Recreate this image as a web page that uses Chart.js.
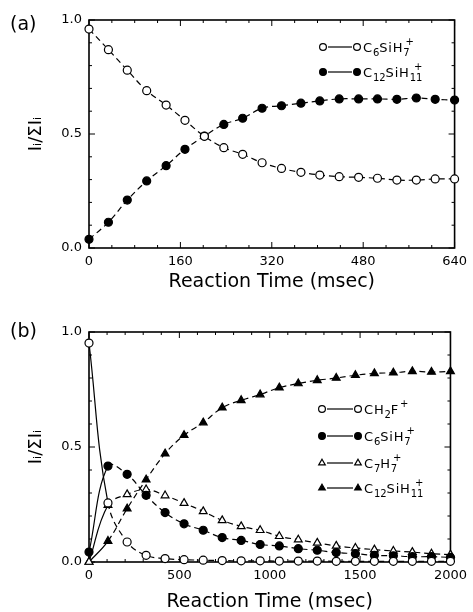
<!DOCTYPE html>
<html>
<head>
<meta charset="utf-8">
<script src="https://cdn.jsdelivr.net/npm/chart.js@4.4.1/dist/chart.umd.min.js"></script>
<style>
  body { margin: 0; background: #fff; }
  .panel { position: absolute; left: 0; width: 473px; }
</style>
</head>
<body>
<div class="panel" style="top:0;height:300px"><canvas id="chartA" width="473" height="300"></canvas></div>
<div class="panel" style="top:300px;height:312px"><canvas id="chartB" width="473" height="312"></canvas></div>
<script>
// panel (a): reaction time in msec and normalised ion intensities
var timeA = [0, 34, 67, 101, 135, 168, 202, 236, 269, 303, 337, 371, 404, 438, 472, 505, 539, 573, 606, 640];
var c6sih7A = [0.96, 0.87, 0.78, 0.69, 0.627, 0.56, 0.49, 0.44, 0.411, 0.374, 0.349, 0.332, 0.320, 0.313, 0.310, 0.306, 0.298, 0.298, 0.303, 0.303];
var c12sih11A = [0.038, 0.113, 0.21, 0.294, 0.361, 0.433, 0.491, 0.542, 0.569, 0.613, 0.624, 0.635, 0.645, 0.654, 0.654, 0.654, 0.652, 0.658, 0.652, 0.649];

// panel (b)
var timeB = [0, 105, 211, 316, 421, 526, 632, 737, 842, 947, 1053, 1158, 1263, 1368, 1474, 1579, 1684, 1789, 1895, 2000];
var ch2fB = [0.952, 0.257, 0.087, 0.029, 0.015, 0.01, 0.008, 0.006, 0.005, 0.005, 0.004, 0.004, 0.004, 0.003, 0.003, 0.003, 0.003, 0.003, 0.003, 0.003];
var c6sih7B = [0.043, 0.417, 0.381, 0.29, 0.215, 0.166, 0.138, 0.106, 0.094, 0.076, 0.07, 0.058, 0.051, 0.041, 0.036, 0.029, 0.027, 0.023, 0.023, 0.02];
var c7h7B = [0.0, 0.247, 0.294, 0.315, 0.289, 0.256, 0.22, 0.181, 0.155, 0.138, 0.112, 0.097, 0.083, 0.07, 0.061, 0.054, 0.048, 0.043, 0.036, 0.032];
var c12sih11B = [0.0, 0.091, 0.232, 0.358, 0.471, 0.551, 0.606, 0.671, 0.703, 0.728, 0.758, 0.776, 0.79, 0.8, 0.812, 0.82, 0.823, 0.829, 0.826, 0.829];

var xTicksA = [0, 160, 320, 480, 640];
var xTicksB = [0, 500, 1000, 1500, 2000];
var yTicks = [0, 0.5, 1.0];

var FONT = '"DejaVu Sans", sans-serif';

function pts(xs, ys) {
    return xs.map(function (x, i) { return { x: x, y: ys[i] }; });
}

function series(label, xs, ys, style, filled, firstSolid) {
    var ds = {
        label: label,
        data: pts(xs, ys),
        borderColor: "#000",
        borderWidth: 1.2,
        borderDash: [6, 4],
        tension: 0.4,
        pointStyle: style,
        pointRadius: style === "triangle" ? 4.5 : 4,
        pointBorderWidth: 1.2,
        pointBorderColor: "#000",
        pointBackgroundColor: filled ? "#000" : "#fff",
        clip: false
    };
    if (firstSolid) {
        ds.segment = { borderDash: function (c) { return c.p0DataIndex === 0 ? [] : [6, 4]; } };
    }
    return ds;
}

// minor/major inward ticks on all four sides plus the frame
var frameTicks = {
    id: "frameTicks",
    beforeDatasetsDraw: function (chart, args, opts) {
        var ctx = chart.ctx, a = chart.chartArea;
        var xs = chart.scales.x, ys = chart.scales.y;
        ctx.save();
        ctx.strokeStyle = "#000";
        ctx.lineWidth = 1;
        ctx.beginPath();
        var v, p, len;
        for (v = 0; v <= xs.max + 1e-9; v += opts.xMinor) {
            p = xs.getPixelForValue(v);
            len = opts.xMajor.indexOf(Math.round(v)) >= 0 ? 6 : 3;
            ctx.moveTo(p, a.bottom); ctx.lineTo(p, a.bottom - len);
            ctx.moveTo(p, a.top); ctx.lineTo(p, a.top + len);
        }
        for (v = 0; v <= 1.0001; v += 0.1) {
            p = ys.getPixelForValue(v);
            len = Math.abs(v * 2 - Math.round(v * 2)) < 1e-6 ? 6 : 3;
            ctx.moveTo(a.left, p); ctx.lineTo(a.left + len, p);
            ctx.moveTo(a.right, p); ctx.lineTo(a.right - len, p);
        }
        ctx.stroke();
        ctx.lineWidth = 1.6;
        ctx.strokeRect(a.left, a.top, a.right - a.left, a.bottom - a.top);
        ctx.fillStyle = "#000";
        ctx.font = "19px " + FONT;
        ctx.textBaseline = "middle";
        ctx.textAlign = "left";
        ctx.fillText(opts.tag, 10, opts.tagY);
        ctx.restore();
    }
};

// chemical formula text: _x subscript, ^x superscript, {..} groups
function drawFormula(ctx, s, x, y, size) {
    var i = 0, subX = null, subW = 0;
    var small = Math.round(size * 0.78);
    while (i < s.length) {
        var ch = s[i];
        if (ch === "_" || ch === "^") {
            var j = i + 1, txt;
            if (s[j] === "{") { var k = s.indexOf("}", j); txt = s.slice(j + 1, k); i = k + 1; }
            else { txt = s[j]; i = j + 1; }
            ctx.font = small + "px " + FONT;
            var w = ctx.measureText(txt).width;
            if (ch === "_") {
                ctx.fillText(txt, x, y + size * 0.32);
                subX = x; subW = w; x += w;
            } else {
                var sx = subX !== null ? subX + subW * 0.35 : x + 1;
                ctx.fillText(txt, sx, y - size * 0.5);
                x = Math.max(x, sx + w);
            }
        } else {
            ctx.font = size + "px " + FONT;
            ctx.fillText(ch, x, y);
            x += ctx.measureText(ch).width + 0.8;
            subX = null;
            i++;
        }
    }
}

var ionLegend = {
    id: "ionLegend",
    afterDatasetsDraw: function (chart, args, opts) {
        var ctx = chart.ctx;
        ctx.save();
        ctx.textBaseline = "alphabetic";
        ctx.textAlign = "left";
        opts.items.forEach(function (it, n) {
            var ds = chart.data.datasets[it.ds];
            var y = opts.rows[n];
            ctx.strokeStyle = "#000";
            ctx.lineWidth = 1.2;
            ctx.setLineDash([]);
            ctx.beginPath();
            ctx.moveTo(opts.x0 + 5, y);
            ctx.lineTo(opts.x1 - 5, y);
            ctx.stroke();
            var po = {
                pointStyle: ds.pointStyle,
                radius: ds.pointStyle === "triangle" ? 3.8 : 3.4,
                borderWidth: 1.1,
                rotation: 0
            };
            [opts.x0, opts.x1].forEach(function (px) {
                ctx.fillStyle = ds.pointBackgroundColor;
                ctx.strokeStyle = "#000";
                Chart.helpers.drawPoint(ctx, po, px, y);
            });
            ctx.fillStyle = "#000";
            drawFormula(ctx, it.text, opts.textX, y + 4.5, 13);
        });
        ctx.restore();
    }
};

function axes(xMax, xStep, xFit, titlePad) {
    return {
        x: {
            type: "linear", min: 0, max: xMax,
            ticks: { stepSize: xStep, padding: 6, color: "#000", maxRotation: 0, font: { family: FONT, size: 13 },
                     callback: function (v) { return String(v); } },
            grid: { display: false, drawTicks: false },
            border: { display: false },
            title: { display: true, text: "Reaction Time (msec)", color: "#000",
                     font: { family: FONT, size: 19, lineHeight: 1 }, padding: { top: 0, bottom: titlePad } },
            afterFit: function (s) { s.height = xFit; }
        },
        y: {
            min: 0, max: 1,
            ticks: { stepSize: 0.5, padding: 7, color: "#000", font: { family: FONT, size: 13 },
                     callback: function (v) { return yTicks.indexOf(v) >= 0 ? v.toFixed(1) : ""; } },
            grid: { display: false, drawTicks: false },
            border: { display: false },
            title: { display: true, text: "Iᵢ/ΣIᵢ", color: "#000",
                     font: { family: FONT, size: 18, lineHeight: 1.1 }, padding: { top: 26, bottom: 0 } },
            afterFit: function (s) { s.width = 89; }
        }
    };
}

document.addEventListener("DOMContentLoaded", function () {
    new Chart(document.getElementById("chartA"), {
        type: "line",
        data: {
            datasets: [
                series("C6SiH7+", timeA, c6sih7A, "circle", false, false),
                series("C12SiH11+", timeA, c12sih11A, "circle", true, false)
            ]
        },
        options: {
            responsive: false,
            animation: false,
            layout: { padding: { top: 20, right: 15, left: 0, bottom: 0 } },
            plugins: {
                legend: { display: false },
                tooltip: { enabled: false },
                frameTicks: { xMinor: 40, xMajor: xTicksA, tag: "(a)", tagY: 25 },
                ionLegend: {
                    x0: 323, x1: 357, textX: 363, rows: [47, 72],
                    items: [{ ds: 0, text: "C_6SiH_7^+" }, { ds: 1, text: "C_{12}SiH_{11}^+" }]
                }
            },
            scales: axes(640, 160, 52, 8)
        },
        plugins: [frameTicks, ionLegend]
    });

    new Chart(document.getElementById("chartB"), {
        type: "line",
        data: {
            datasets: [
                series("CH2F+", timeB, ch2fB, "circle", false, true),
                series("C6SiH7+", timeB, c6sih7B, "circle", true, true),
                series("C7H7+", timeB, c7h7B, "triangle", false, true),
                series("C12SiH11+", timeB, c12sih11B, "triangle", true, true)
            ]
        },
        options: {
            responsive: false,
            animation: false,
            layout: { padding: { top: 32, right: 15, left: 0, bottom: 0 } },
            plugins: {
                legend: { display: false },
                tooltip: { enabled: false },
                frameTicks: { xMinor: 100, xMajor: xTicksB, tag: "(b)", tagY: 32 },
                ionLegend: {
                    x0: 322, x1: 358, textX: 364, rows: [109, 136, 163, 188],
                    items: [
                        { ds: 0, text: "CH_2F^+" },
                        { ds: 1, text: "C_6SiH_7^+" },
                        { ds: 2, text: "C_7H_7^+" },
                        { ds: 3, text: "C_{12}SiH_{11}^+" }
                    ]
                }
            },
            scales: axes(2000, 500, 50, 0)
        },
        plugins: [frameTicks, ionLegend]
    });
});
</script>
</body>
</html>
